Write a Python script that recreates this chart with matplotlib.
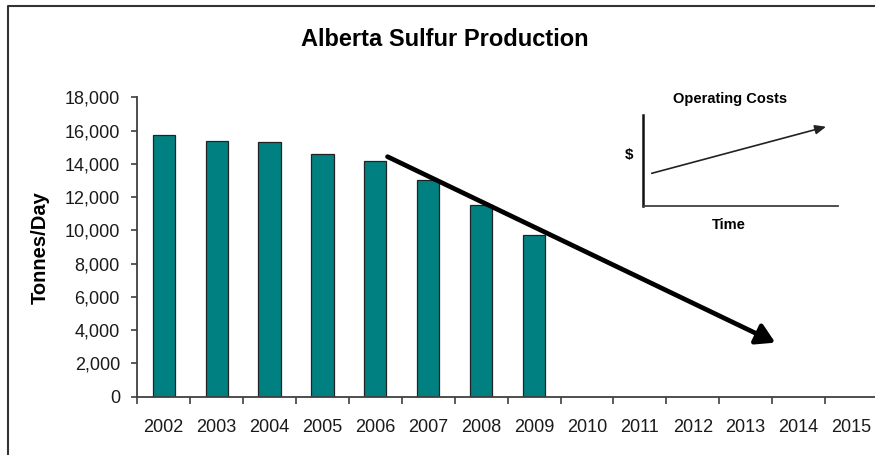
import matplotlib
matplotlib.use("Agg")
import matplotlib.pyplot as plt
from matplotlib.lines import Line2D
from matplotlib.ticker import FuncFormatter
import numpy as np

plt.rcParams['font.family'] = ['Liberation Sans', 'DejaVu Sans']

years = ['2002', '2003', '2004', '2005', '2006', '2007', '2008', '2009',
         '2010', '2011', '2012', '2013', '2014', '2015']
production = [15750, 15400, 15300, 14600, 14150, 13000, 11500, 9750]
trend_start = (4.23, 14430)
trend_end = (11.56, 3250)
y_ticks = list(range(0, 18001, 2000))

bar_color = '#008080'
axis_color = '#404040'

fig = plt.figure(figsize=(8.75, 4.55), dpi=100)
ax = fig.add_axes([137.3 / 875, (455 - 396.7) / 455, 740.6 / 875, 299.4 / 455])

x = np.arange(len(production))
ax.bar(x, production, width=0.42, color=bar_color, edgecolor='#222222', linewidth=0.9, zorder=2)

ax.set_xlim(-0.5, len(years) - 0.5)
ax.set_ylim(0, 18000)
ax.set_yticks(y_ticks)
ax.yaxis.set_major_formatter(FuncFormatter(lambda v, p: f"{int(v):,}"))
ax.set_xticks(np.arange(len(years)))
ax.set_xticklabels(years)
ax.set_xticks(np.arange(-0.5, len(years)), minor=True)

for s in ['top', 'right']:
    ax.spines[s].set_visible(False)
for s in ['left', 'bottom']:
    ax.spines[s].set_color(axis_color)
    ax.spines[s].set_linewidth(1.3)

ax.tick_params(axis='x', which='major', length=0, pad=16, labelsize=13, labelcolor='#1a1a1a')
ax.tick_params(axis='x', which='minor', length=5, width=1.2, color=axis_color, direction='out')
ax.tick_params(axis='y', length=4.5, width=1.2, color=axis_color, pad=8, labelsize=13, labelcolor='#1a1a1a')

ax.set_ylabel('Tonnes/Day', fontsize=14.5, fontweight='bold', va='center')
ax.yaxis.set_label_coords((40 - 137.3) / 740.6, (396.7 - 248) / 299.4)

ax.annotate('', xy=trend_end, xytext=trend_start, xycoords='data', textcoords='data',
            arrowprops=dict(arrowstyle='-|>,head_length=1.1,head_width=0.65', lw=3.4,
                            color='black', shrinkA=0, shrinkB=0), zorder=3)

fig.text(445 / 875, 1 - 40 / 455, 'Alberta Sulfur Production', ha='center', va='center',
         fontsize=17, fontweight='bold')

# inset diagram
ins = fig.add_axes([643.3 / 875, (455 - 206) / 455, 195 / 875, 91 / 455])
ins.patch.set_alpha(0)
for s in ['top', 'right']:
    ins.spines[s].set_visible(False)
ins.spines['left'].set_linewidth(1.8)
ins.spines['bottom'].set_linewidth(1.3)
ins.spines['left'].set_color('#111111')
ins.spines['bottom'].set_color(axis_color)
ins.set_xticks([])
ins.set_yticks([])
ins.set_xlim(0, 1)
ins.set_ylim(0, 1)
ins.annotate('', xy=(0.937, 0.871), xytext=(0.043, 0.359),
             arrowprops=dict(arrowstyle='-|>,head_length=0.65,head_width=0.28', lw=1.2,
                             color='#222222', shrinkA=0, shrinkB=0))
fig.text(730 / 875, 1 - 98.5 / 455, 'Operating Costs', ha='center', va='center',
         fontsize=10.5, fontweight='bold')
fig.text(629 / 875, 1 - 155 / 455, '$', ha='center', va='center', fontsize=11, fontweight='bold')
fig.text(729 / 875, 1 - 225 / 455, 'Time', ha='center', va='center', fontsize=10.5, fontweight='bold')

# outer frame (left and top edges visible)
fig.add_artist(Line2D([8.3 / 875, 8.3 / 875, 1.0], [0.0, 1 - 6 / 455, 1 - 6 / 455],
                      transform=fig.transFigure, color='#333333', lw=1.5))

fig.savefig('out.png', dpi=100)
